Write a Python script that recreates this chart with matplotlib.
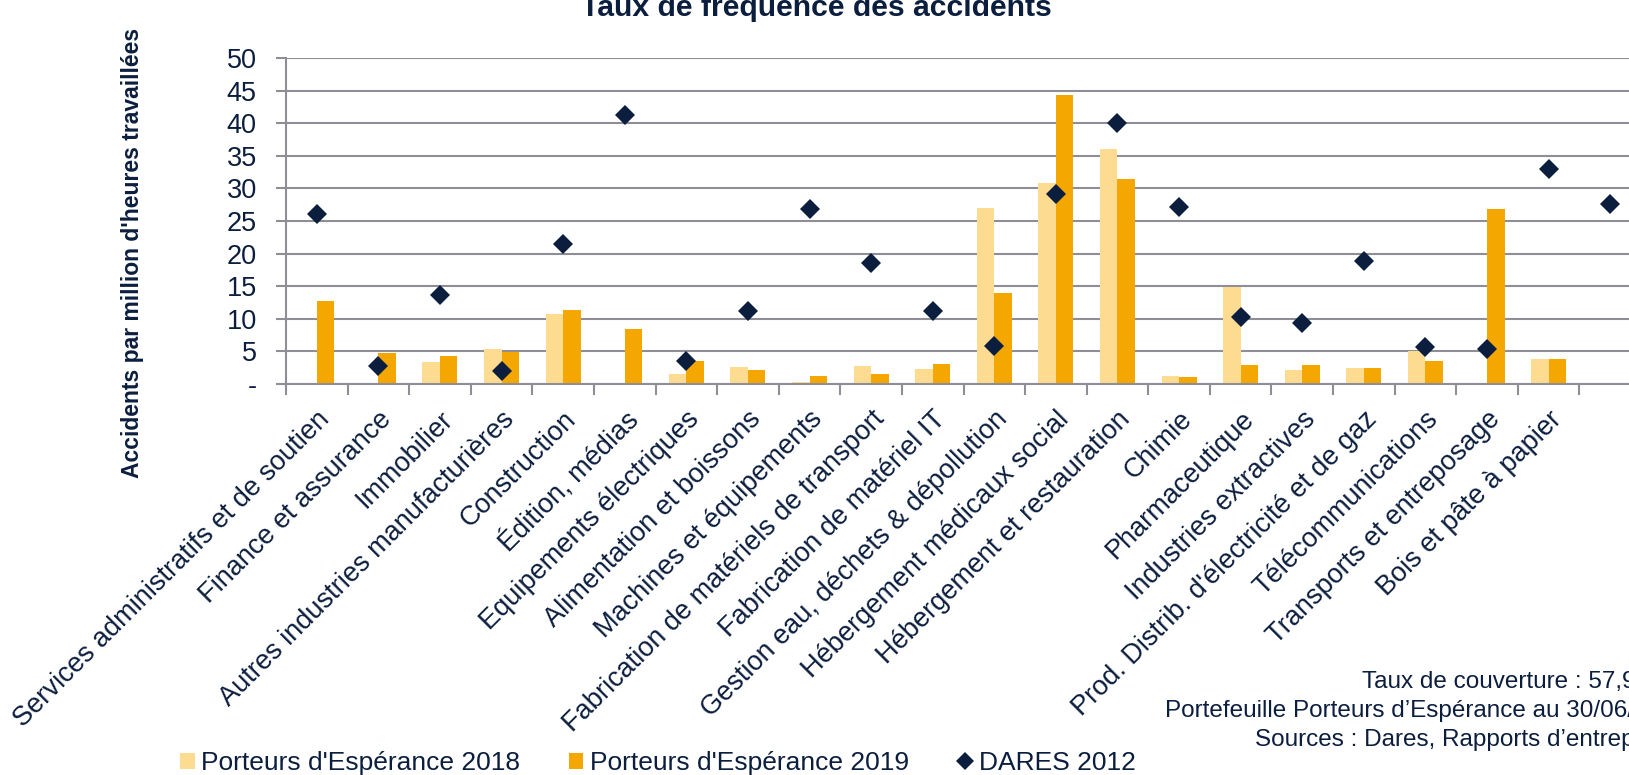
import matplotlib
matplotlib.use("Agg")
import matplotlib.pyplot as plt
import numpy as np
from matplotlib.lines import Line2D
from matplotlib.patches import Patch

plt.rcParams['font.family'] = ['Liberation Sans', 'DejaVu Sans']

categories = [
    "Services administratifs et de soutien", "Finance et assurance", "Immobilier",
    "Autres industries manufacturières", "Construction", "Édition, médias",
    "Equipements électriques", "Alimentation et boissons", "Machines et équipements",
    "Fabrication de matériels de transport", "Fabrication de matériel IT",
    "Gestion eau, déchets & dépollution", "Hébergement médicaux social",
    "Hébergement et restauration", "Chimie", "Pharmaceutique", "Industries extractives",
    "Prod. Distrib. d'électricité et de gaz", "Télécommunications",
    "Transports et entreposage", "Bois et pâte à papier", "",
]
pe_2018 = [0, 0, 3.3, 5.3, 10.7, 0, 1.5, 2.6, 0.3, 2.8, 2.3, 27.0, 30.9, 36.0, 1.3, 14.9, 2.2, 2.45, 5.1, 0, 3.8, 0]
pe_2019 = [12.7, 4.8, 4.3, 4.9, 11.3, 8.4, 3.5, 2.1, 1.3, 1.5, 3.0, 14.0, 44.3, 31.5, 1.1, 2.95, 2.9, 2.45, 3.6, 26.9, 3.8, 0]
dares_2012 = [26.1, 2.8, 13.7, 2.0, 21.5, 41.2, 3.6, 11.2, 26.9, 18.5, 11.2, 5.9, 29.2, 40.0, 27.2, 10.3, 9.3, 18.8, 5.7, 5.4, 32.9, 27.6]
yticks = [0, 5, 10, 15, 20, 25, 30, 35, 40, 45, 50]
ytick_labels = ["-", "5", "10", "15", "20", "25", "30", "35", "40", "45", "50"]

NAVY = "#0C1E3E"
LIGHT = "#FDDC91"
ORANGE = "#F4A700"
GRID = "#8E8E96"

W, H = 1629, 775
fig = plt.figure(figsize=(W / 100, H / 100), dpi=100)
left, right, top, bottom = 286, 1641, 58, 384
ax = fig.add_axes([left / W, 1 - bottom / H, (right - left) / W, (bottom - top) / H])

x = np.arange(len(categories))
bw = 0.284
ax.bar(x - bw / 2, pe_2018, width=bw, color=LIGHT, zorder=2)
ax.bar(x + bw / 2, pe_2019, width=bw, color=ORANGE, zorder=2)
ax.plot(x, dares_2012, linestyle="none", marker="D", markersize=10.5,
        color=NAVY, markeredgewidth=0, zorder=3)

ax.set_xlim(-0.5, len(categories) - 0.5)
ax.set_ylim(0, 50)
ax.set_yticks(yticks)
ax.set_yticklabels(ytick_labels)
ax.yaxis.grid(True, color=GRID, linewidth=1.5, zorder=0)
ax.set_axisbelow(True)

ax.set_xticks(np.arange(-0.5, len(categories)), minor=False)
ax.set_xticklabels([])
ax.set_xticks(x, minor=True)
ax.set_xticklabels(categories, minor=True, rotation=45, ha="right", va="top",
                   rotation_mode="anchor")
ax.tick_params(axis="x", which="major", length=8, width=1.5, color=GRID, direction="out")
ax.tick_params(axis="x", which="minor", length=0, pad=16, labelsize=19.5, labelcolor=NAVY)
ax.tick_params(axis="y", length=7, width=1.5, color=GRID, labelsize=19.5, labelcolor=NAVY, pad=14)

for s in ["top", "right"]:
    ax.spines[s].set_visible(False)
for s in ["left", "bottom"]:
    ax.spines[s].set_color(GRID)
    ax.spines[s].set_linewidth(1.5)

fig.text(133 / W, 1 - 253 / H, "Accidents par million d'heures travaillées",
         rotation=90, ha="center", va="center", fontsize=16.5, fontweight="bold", color=NAVY)
fig.text(816 / W, 1 - 16 / H, "Taux de fréquence des accidents", ha="center",
         va="baseline", fontsize=21.7, fontweight="bold", color=NAVY)

fig.text(1362 / W, 1 - 688 / H, "Taux de couverture : 57,9%", ha="left",
         va="baseline", fontsize=17.5, color=NAVY)
fig.text(1165 / W, 1 - 717 / H, "Portefeuille Porteurs d’Espérance au 30/06/2019", ha="left",
         va="baseline", fontsize=17.5, color=NAVY)
fig.text(1255 / W, 1 - 746 / H, "Sources : Dares, Rapports d’entreprises", ha="left",
         va="baseline", fontsize=17.5, color=NAVY)

handles = [
    Patch(facecolor=LIGHT, edgecolor="none", label="Porteurs d'Espérance 2018"),
    Patch(facecolor=ORANGE, edgecolor="none", label="Porteurs d'Espérance 2019"),
    Line2D([], [], linestyle="none", marker="D", markersize=9, color=NAVY,
           markeredgewidth=0, label="DARES 2012"),
]
leg = fig.legend(handles=handles, loc="center left", bbox_to_anchor=(180 / W, 1 - 763 / H),
                 ncol=3, frameon=False, fontsize=19, handlelength=0.55, handleheight=0.55,
                 handletextpad=0.25, columnspacing=1.85, borderpad=0, borderaxespad=0)
for t in leg.get_texts():
    t.set_color(NAVY)

fig.savefig("out.png", dpi=100)
